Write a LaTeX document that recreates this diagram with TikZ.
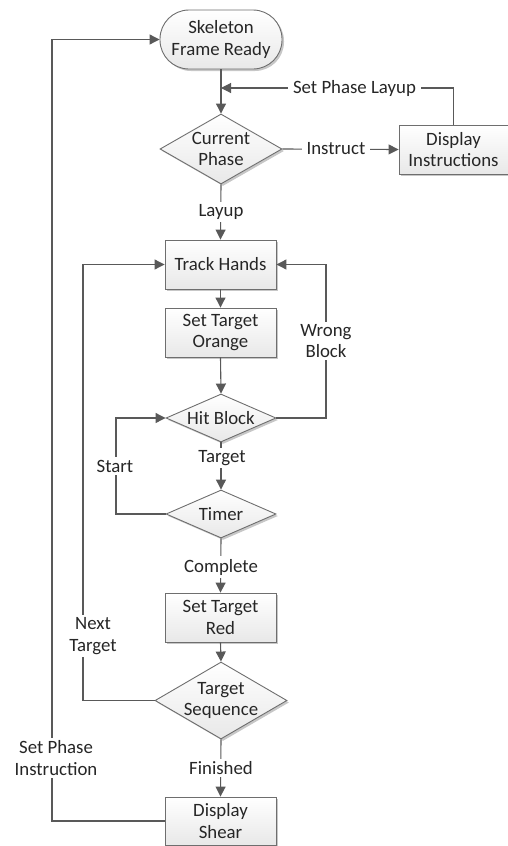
\documentclass[tikz,border=0pt]{standalone}
\usepackage{fontspec}
\setmainfont{Carlito}
\usetikzlibrary{arrows.meta,shapes.geometric,shadows}
\definecolor{lc}{RGB}{89,89,89}
\definecolor{bc}{RGB}{110,110,110}
\definecolor{tc}{RGB}{38,38,38}
\begin{document}
\begin{tikzpicture}[x=1pt,y=-1pt,
  font=\fontsize{18.8}{21.7}\selectfont, text=tc,
  shd/.style={drop shadow={shadow xshift=2pt,shadow yshift=-2pt,opacity=0.22,fill=black}},
  boxn/.style={draw=bc,line width=0.9pt,top color=white,bottom color=black!9,shd,
    minimum width=111pt,minimum height=49pt,inner sep=0pt,align=center},
  termn/.style={boxn,rounded corners=29pt,minimum width=122pt,minimum height=59pt},
  decn/.style={diamond,draw=bc,line width=0.9pt,top color=white,bottom color=black!9,shd,inner sep=0pt},
  lbl/.style={fill=white,inner sep=2.5pt,align=center,text=tc},
  arr/.style={draw=lc,line width=1.1pt,-{Triangle[length=10pt,width=10pt]}},
  ln/.style={draw=lc,line width=1.1pt}]
\useasboundingbox (0,0) rectangle (508,846);
% nodes
\node[termn] (start) at (221,39.5) {Skeleton\\Frame Ready};
\node[decn,minimum width=122pt,minimum height=70pt,
  label={[align=center,text=tc]center:Current\\Phase}] (cp) at (221,149) {};
\node[boxn,minimum width=109pt] (di) at (453.5,149.5) {Display\\Instructions};
\node[boxn] (th) at (220.5,264.5) {Track Hands};
\node[boxn] (sto) at (220.5,332.5) {Set Target\\Orange};
\node[decn,minimum width=110pt,minimum height=48pt,
  label={[text=tc]center:Hit Block}] (hb) at (221,418) {};
\node[decn,minimum width=110pt,minimum height=48pt,
  label={[text=tc]center:Timer}] (tm) at (221,514) {};
\node[boxn] (str) at (220.5,617.5) {Set Target\\Red};
\node[decn,minimum width=132pt,minimum height=77pt,
  label={[align=center,text=tc]center:Target\\Sequence}] (ts) at (221,700.5) {};
\node[boxn,minimum height=48pt] (ds) at (220.5,821) {Display\\Shear};
% coordinates
\coordinate (j1) at (221,88);
\coordinate (wb) at (326,418);
\coordinate (st) at (116,514);
\coordinate (nt) at (83,700.5);
\coordinate (sp) at (52,821);
% connectors
\draw[arr] (start.south) -- (cp.north);
\draw[arr] (di.north) |- (j1);
\draw[arr] (cp.east) -- (di.west);
\draw[arr] (cp.south) -- (th.north);
\draw[arr] (th.south) -- (sto.north);
\draw[arr] (sto.south) -- (hb.north);
\draw[arr] (hb.east) -- (wb) |- (th.east);
\draw[arr] (hb.south) -- (tm.north);
\draw[arr] (tm.west) -- (st) |- (hb.west);
\draw[arr] (tm.south) -- (str.north);
\draw[arr] (str.south) -- (ts.north);
\draw[arr] (ts.west) -- (nt) |- (th.west);
\draw[arr] (ts.south) -- (ds.north);
\draw[arr] (ds.west) -- (sp) |- (start.west);
% labels
\node[lbl,inner xsep=5pt] (l1) at (354.5,88) {Set Phase Layup};
\node[lbl,inner xsep=5pt] (l2) at (336,149) {Instruct};
\node[lbl] (l3) at (221,212) {Layup};
\node[lbl] (l4) at (326,341) {Wrong\\Block};
\node[lbl] (l5) at (222,458) {Target};
\node[lbl] (l6) at (115,466) {Start};
\node[lbl] (l7) at (221,567) {Complete};
\node[lbl] (l8) at (93,636) {Next\\Target};
\node[lbl] (l9) at (221,768) {Finished};
\node[lbl] (l10) at (56,758) {Set Phase\\Instruction};
\end{tikzpicture}
\end{document}
